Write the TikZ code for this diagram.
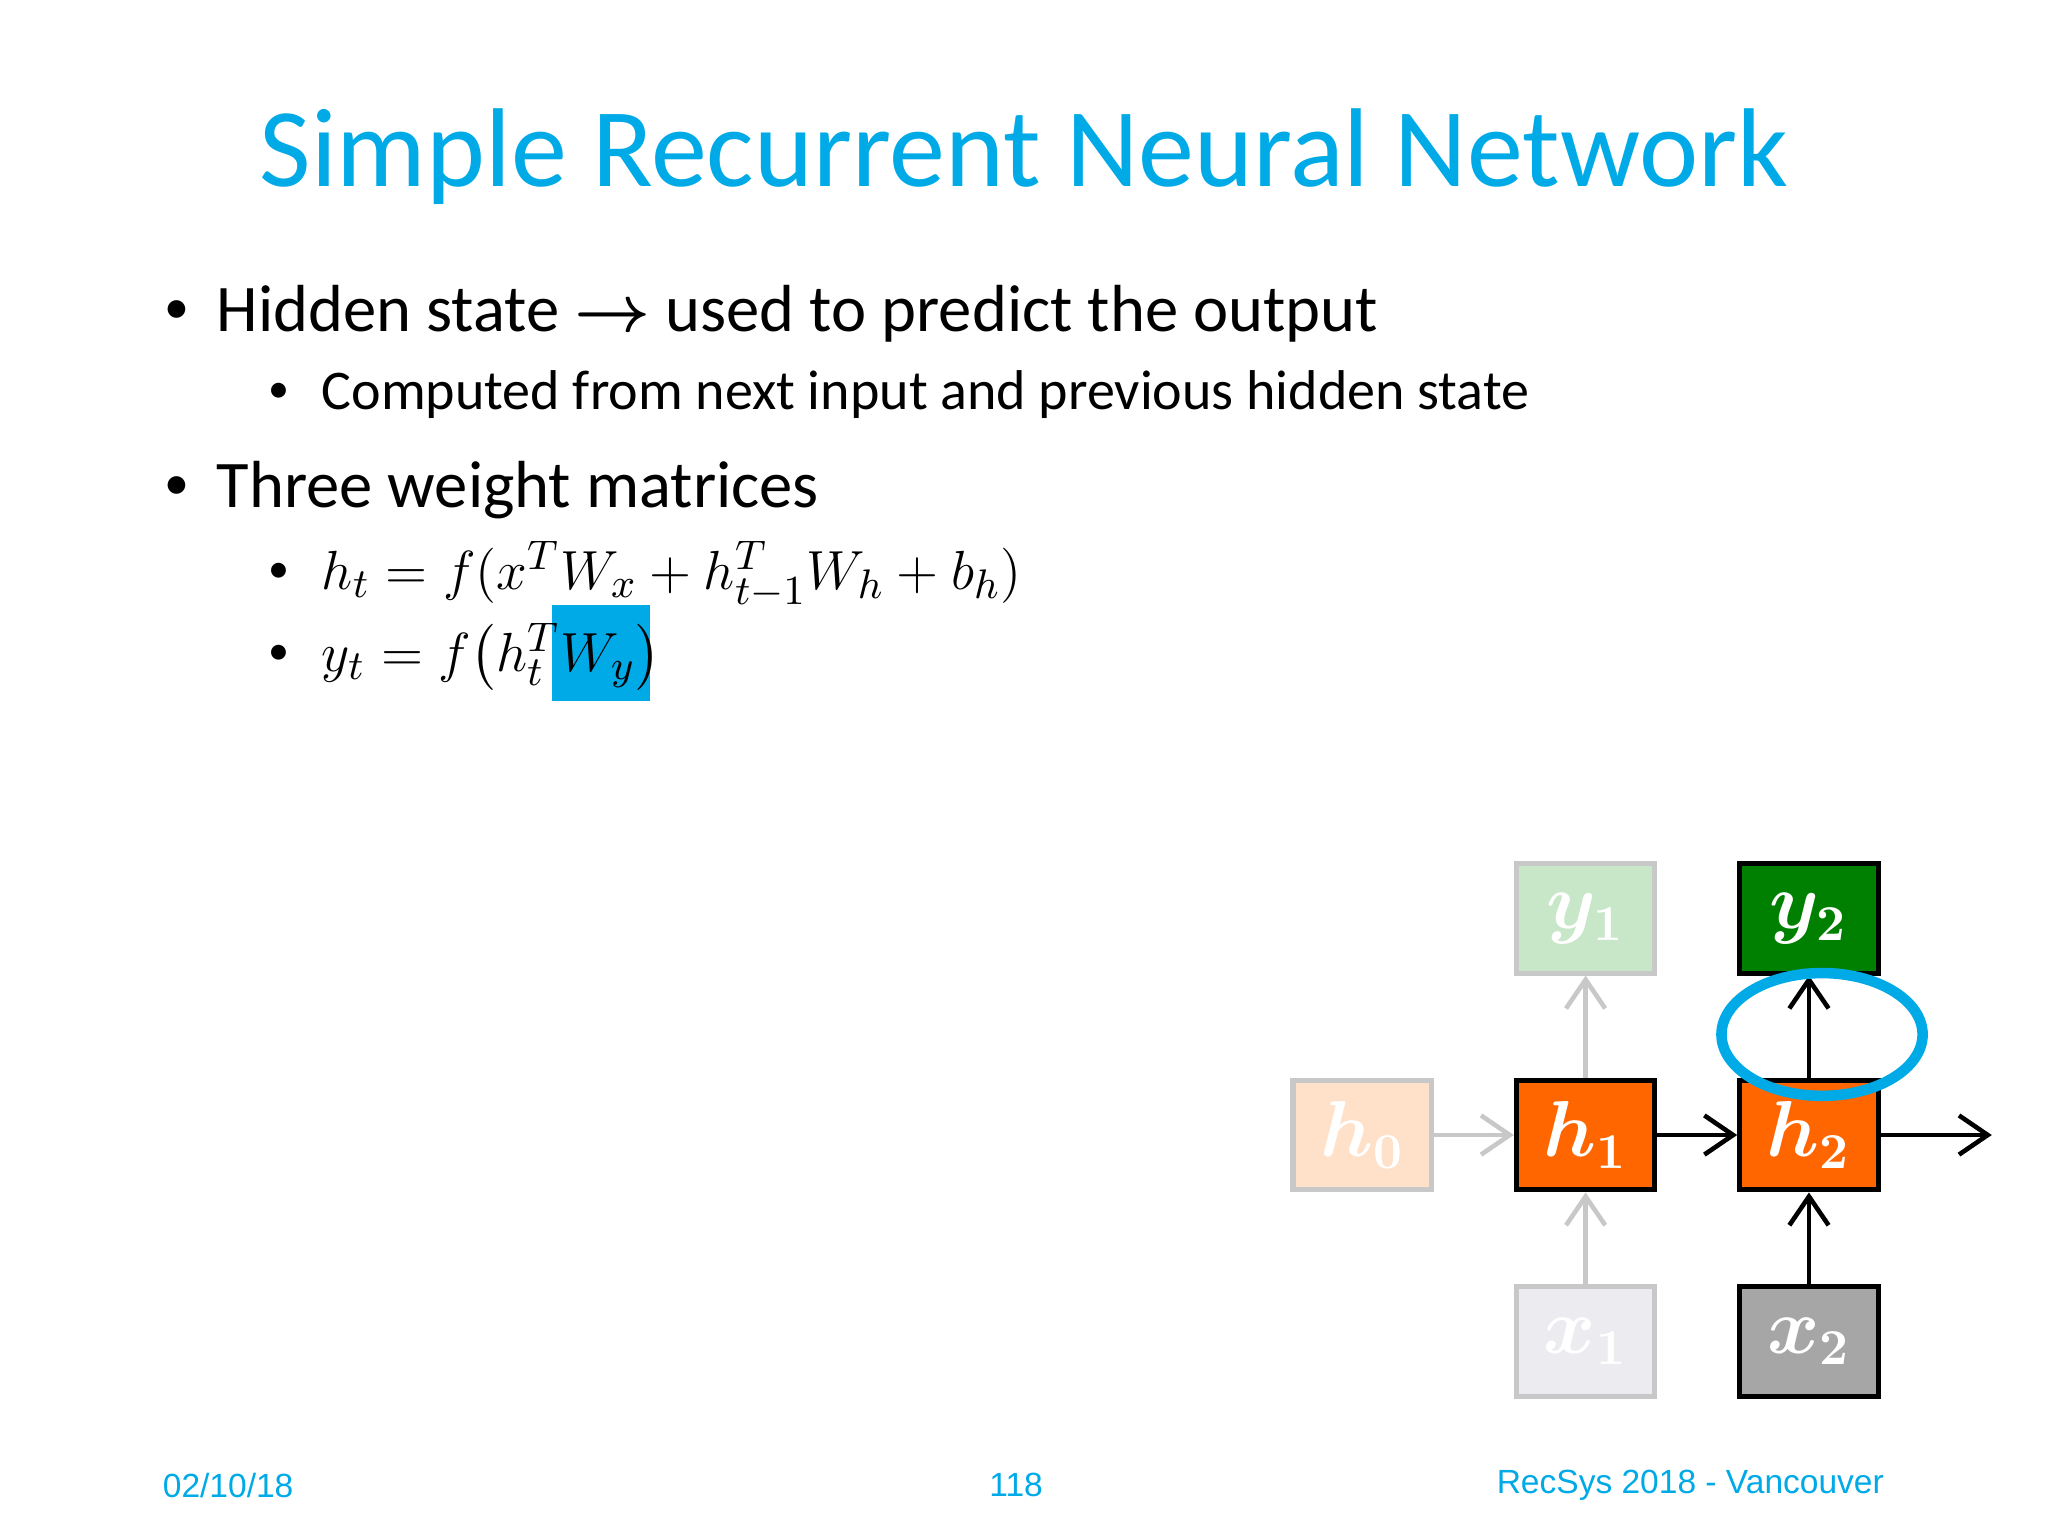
\documentclass[tikz,border=0pt]{standalone}
\usepackage{fontspec}
\usepackage{amsmath}
\setmainfont{Carlito}
\newfontfamily\footfont{Liberation Sans}
\usetikzlibrary{arrows.meta}
\definecolor{cy}{RGB}{0,170,230}
\definecolor{org}{RGB}{255,102,0}
\definecolor{dgreen}{RGB}{0,128,0}
\definecolor{gbox}{RGB}{166,166,166}
\definecolor{fgreen}{RGB}{200,230,200}
\definecolor{forg}{RGB}{255,224,200}
\definecolor{fgray}{RGB}{236,236,240}
\definecolor{fline}{RGB}{200,200,200}
\newcommand{\smbul}{\raisebox{0.12em}{\scalebox{0.75}{\textbullet}}}
\tikzset{
 box/.style={draw=black,line width=1.1pt,minimum width=1.06cm,minimum height=0.84cm,inner sep=0pt,text=white,font=\fontsize{16}{19}\selectfont\boldmath},
 fbox/.style={box,draw=fline},
 arr/.style={line width=1pt,-{Straight Barb[length=2.2mm,width=3mm]}},
 farr/.style={arr,draw=fline},
 txt/.style={anchor=west,inner sep=0pt}
}
\begin{document}
\begin{tikzpicture}[x=0.01cm,y=-0.01cm]
\useasboundingbox (0,0) rectangle (1568,1176);
\node[text=cy,font=\fontsize{24.4}{28}\selectfont] (title) at (784,120) {Simple Recurrent Neural Network};
\node[txt,font=\fontsize{14.5}{17}\selectfont] (b1) at (125,240) {\smbul\hspace{6pt}Hidden state $\boldsymbol{\rightarrow}$ used to predict the output};
\node[txt,font=\fontsize{12.2}{15}\selectfont] (b11) at (205,302) {\smbul\hspace{7pt}Computed from next input and previous hidden state};
\node[txt,font=\fontsize{14.5}{17}\selectfont] (b2) at (125,375) {\smbul\hspace{6pt}Three weight matrices};
\fill[cy] (423,463) rectangle (498,537);
\node[txt,font=\fontsize{12.2}{15}\selectfont] (f1) at (205,440) {\smbul\hspace{7pt}\fontsize{12.5}{15}\selectfont$h_t=f(x^TW_x+h_{t-1}^TW_h+b_h)$};
\node[txt,font=\fontsize{12.2}{15}\selectfont] (f2) at (205,503) {\smbul\hspace{7pt}\fontsize{12.5}{15}\selectfont$y_t=f\bigl(h_t^TW_y\bigr)$};
% boxes
\node[fbox,fill=fgreen] (y1) at (1214,703) {$y_1$};
\node[box,fill=dgreen] (y2) at (1385,703) {$y_2$};
\node[fbox,fill=forg] (h0) at (1043,869) {$h_0$};
\node[box,fill=org] (h1) at (1214,869) {$h_1$};
\node[box,fill=org] (h2) at (1385,869) {$h_2$};
\node[fbox,fill=fgray] (x1) at (1214,1027) {$x_1$};
\node[box,fill=gbox] (x2) at (1385,1027) {$x_2$};
\coordinate (out) at (1525,869);
\draw[farr] (h0) -- (h1);
\draw[farr] (h1) -- (y1);
\draw[farr] (x1) -- (h1);
\draw[arr] (h1) -- (h2);
\draw[arr] (h2) -- (y2);
\draw[arr] (x2) -- (h2);
\draw[arr] (h2) -- (out);
\draw[cy,line width=2.3pt] (1395,792) ellipse [x radius=77,y radius=47];
% footer
\node[text=cy,font=\footfont\fontsize{7.3}{9}\selectfont,anchor=west,inner sep=0pt] (d) at (124,1137) {02/10/18};
\node[text=cy,font=\footfont\fontsize{7.3}{9}\selectfont,inner sep=0pt] (p) at (778,1137) {118};
\node[text=cy,font=\footfont\fontsize{7.3}{9}\selectfont,anchor=east,inner sep=0pt] (r) at (1443,1137) {RecSys 2018 - Vancouver};
\end{tikzpicture}
\end{document}
